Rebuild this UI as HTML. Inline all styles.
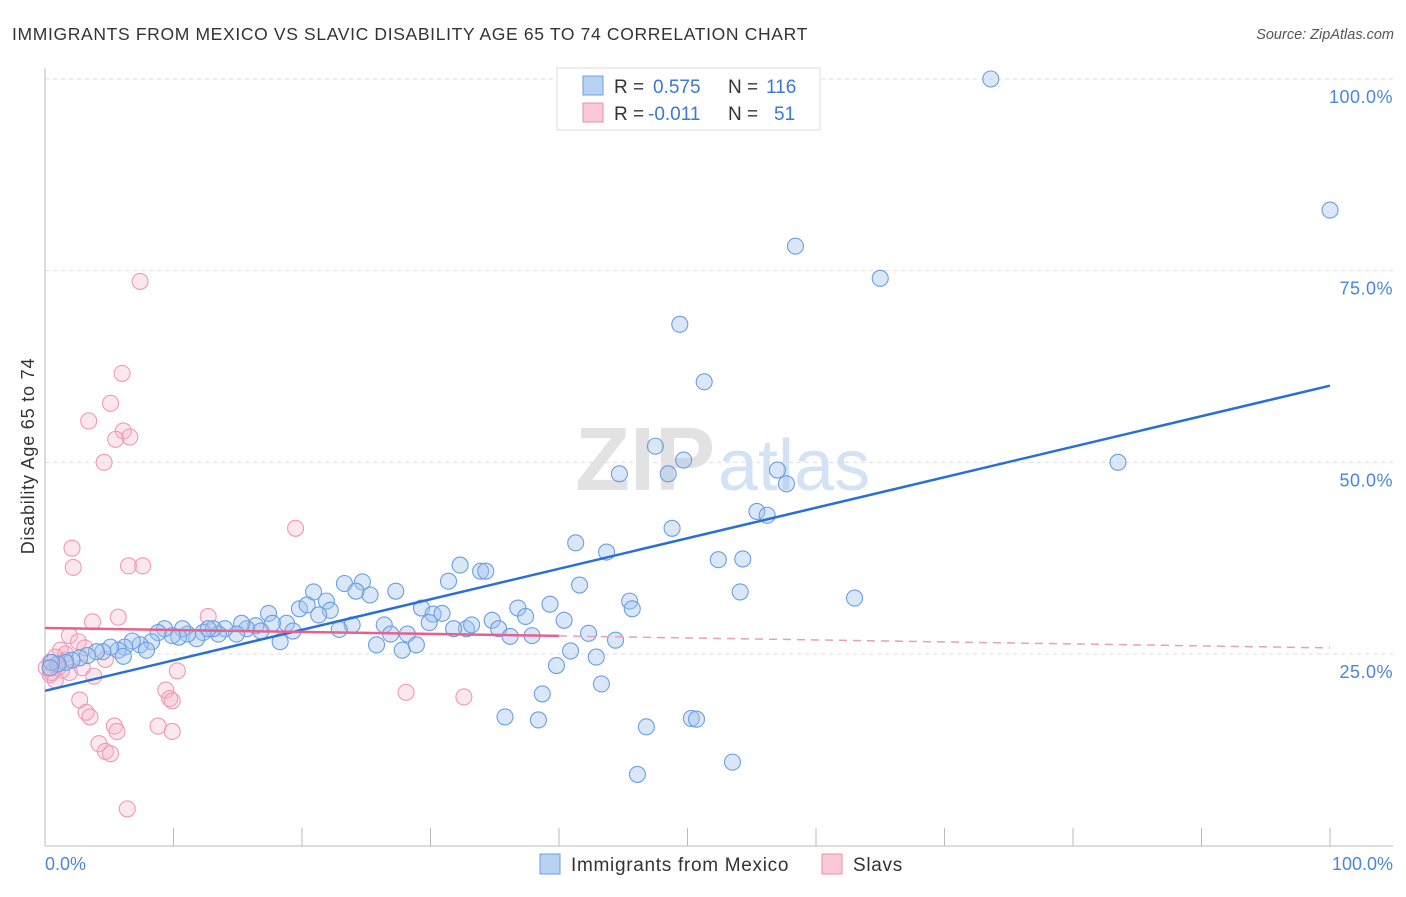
<!DOCTYPE html>
<html><head><meta charset="utf-8"><style>
body{margin:0;background:#fff;font-family:"Liberation Sans",sans-serif}
svg text{font-family:"Liberation Sans",sans-serif}
</style></head><body>
<svg width="1406" height="892">
<text x="12" y="40" font-size="17.5" fill="#333" letter-spacing="0.65">IMMIGRANTS FROM MEXICO VS SLAVIC DISABILITY AGE 65 TO 74 CORRELATION CHART</text>
<text x="1394" y="39" font-size="14.5" fill="#555" text-anchor="end" font-style="italic">Source: ZipAtlas.com</text>
<g id="grid"></g>
<text x="715" y="490" font-size="90" fill="#e2e2e2" text-anchor="end" font-family="Liberation Serif" font-weight="bold">ZIP</text>
<text x="718" y="490" font-size="72" fill="#d3e2f4">atlas</text>
<g id="pts"></g>
<g id="lines"></g>
<text transform="translate(34,456) rotate(-90)" font-size="18" letter-spacing="0.8" fill="#333" text-anchor="middle">Disability Age 65 to 74</text>
<text x="45" y="870" font-size="18" fill="#4a86d8">0.0%</text>
<text x="1393" y="870" font-size="18" fill="#4a86d8" text-anchor="end">100.0%</text>
<rect x="557" y="68" width="263" height="62" fill="#fff" stroke="#ddd"/>
<rect x="583" y="76" width="20" height="19" fill="#b8d2f4" stroke="#6a9fe0"/>
<rect x="583" y="103" width="20" height="19" fill="#fbc9d8" stroke="#ea8fab"/>
<text x="614" y="93" font-size="19" fill="#333">R = <tspan fill="#3a78d6" x="653">0.575</tspan><tspan x="728">N =</tspan><tspan fill="#3a78d6" x="766">116</tspan></text>
<text x="614" y="120" font-size="19" fill="#333">R = <tspan fill="#3a78d6" x="648">-0.011</tspan><tspan x="728">N =</tspan><tspan fill="#3a78d6" x="774">51</tspan></text>
<rect x="540" y="854" width="20" height="20" fill="#b8d2f4" stroke="#6a9fe0"/>
<text x="571" y="871" font-size="19" letter-spacing="0.7" fill="#333">Immigrants from Mexico</text>
<rect x="822" y="854" width="20" height="20" fill="#fbc9d8" stroke="#ea8fab"/>
<text x="853" y="871" font-size="19" letter-spacing="0.7" fill="#333">Slavs</text>
</svg>
<script>
const yTicks=[25,50,75,100];
const yTickLabels=["25.0%","50.0%","75.0%","100.0%"];
const xTicks=[0,10,20,30,40,50,60,70,80,90,100];
const blueX=[73.6,100,58.4,65,49.4,51.3,47.5,49.7,44.7,48.5,83.5,57,57.7,55.4,56.2,48.8,41.3,43.7,52.4,54.3,32.3,33.9,34.3,31.4,41.6,54.1,63,45.5,45.7,39.3,36.8,37.4,34.8,40.4,29.3,30.2,30.9,29.9,32.8,33.2,31.8,35.3,36.2,37.9,42.3,44.4,27.3,25.3,23.3,24.7,24.2,20.9,21.9,19.8,20.4,22.2,21.3,23.9,22.9,26.4,26.9,28.2,25.8,27.8,28.9,40.9,42.9,39.8,43.3,38.7,35.8,38.4,46.8,50.3,50.7,46.1,53.5,17.4,18.8,19.3,18.3,17.7,16.4,15.7,15.3,16.8,14.9,14,13.5,13.1,12.3,12.7,11.8,11.1,10.7,10.4,9.9,9.3,8.8,8.3,7.4,6.8,7.9,6.2,5.7,5.1,4.5,4,3.3,2.7,2.1,1.6,1,0.5,0.4,6.1];
const blueY=[100,82.9,78.2,74,68,60.5,52.1,50.3,48.5,48.5,50,49,47.2,43.6,43.1,41.4,39.5,38.3,37.3,37.4,36.6,35.8,35.8,34.5,34,33.1,32.3,31.9,30.9,31.5,31,29.9,29.4,29.4,31,30.2,30.3,29.1,28.3,28.8,28.3,28.3,27.3,27.4,27.7,26.8,33.2,32.7,34.2,34.4,33.2,33.1,31.9,30.9,31.4,30.7,30.1,28.8,28.2,28.8,27.6,27.6,26.2,25.5,26.2,25.4,24.6,23.5,21.1,19.8,16.8,16.4,15.5,16.6,16.5,9.3,10.9,30.3,29,28,26.6,29,28.7,28.3,29,28,27.6,28.3,27.6,28.3,27.8,28.3,27,27.6,28.3,27.2,27.4,28.3,27.8,26.6,26.2,26.7,25.5,25.9,25.5,25.9,25.3,25.3,24.8,24.5,24.2,23.9,23.7,23.9,23.2,24.7];
const pinkX=[7.4,6,5.1,3.4,6.1,6.6,5.5,4.6,19.5,2.1,2.2,6.5,7.6,3.7,5.7,12.7,1.9,2.6,3.1,1.2,1.6,0.8,0.4,1,0.4,0.8,1.9,2.9,3.8,4.7,10.3,9.4,9.7,9.9,28.1,32.6,2.7,3.2,3.5,8.8,9.9,5.4,5.6,4.2,4.7,5.1,6.4,1.3,0.1,0.5,1.6];
const pinkY=[73.6,61.6,57.7,55.4,54.1,53.3,53,50,41.4,38.8,36.3,36.5,36.5,29.2,29.8,29.9,27.4,26.6,25.8,25.5,25,24.6,23.9,23.2,22.3,21.6,22.6,23.2,22.1,24.3,22.8,20.3,19.2,18.9,20,19.4,19,17.4,16.8,15.6,14.9,15.6,14.9,13.3,12.3,12,4.8,22.9,23.2,22.6,24.2];
const blueTrend=[20.2,60];
const pinkTrend=[28.4,25.8];
const pinkSolidEnd=40;
const NS="http://www.w3.org/2000/svg";
const X=v=>45+v*12.85, Y=v=>845.7-v*7.667;
function mk(t,a,p){const e=document.createElementNS(NS,t);for(const k in a)e.setAttribute(k,a[k]);document.getElementById(p).appendChild(e);return e;}
yTicks.forEach((t,i)=>{
 let l=mk('line',{x1:45,x2:1393,y1:Y(t),y2:Y(t),stroke:'#ddd','stroke-dasharray':'4,4'},'grid');
 
 
 let tx=mk('text',{x:1393,y:Y(t)+24,'font-size':18,fill:'#4a86d8','text-anchor':'end','letter-spacing':0.5},'grid');
 tx.textContent=yTickLabels[i];
 
 
});
let ax=mk('line',{x1:45,x2:1393,y1:846,y2:846,stroke:'#bbb'},'grid');


let ay=mk('line',{x1:45,x2:45,y1:68,y2:846,stroke:'#bbb'},'grid');


xTicks.forEach(t=>{
 let l=mk('line',{x1:X(t),x2:X(t),y1:828,y2:846,stroke:'#bbb'},'grid');
 
 
});
pinkX.forEach((x,i)=>{
 let c=mk('circle',{cx:X(x),cy:Y(pinkY[i]),r:8,fill:'rgba(247,175,199,0.3)',stroke:'#ee9ab4','stroke-width':1.1},'pts');
 
 
});
blueX.forEach((x,i)=>{
 let c=mk('circle',{cx:X(x),cy:Y(blueY[i]),r:8,fill:'rgba(160,196,240,0.4)',stroke:'#6a9fe0','stroke-width':1.1},'pts');
 
 
});
let b=mk('line',{x1:X(0),y1:Y(blueTrend[0]),x2:X(100),y2:Y(blueTrend[1]),stroke:'#2a6fd6','stroke-width':2.5},'lines');


const pm=pinkTrend[0]+(pinkTrend[1]-pinkTrend[0])*pinkSolidEnd/100;
let p1=mk('line',{x1:X(0),y1:Y(pinkTrend[0]),x2:X(pinkSolidEnd),y2:Y(pm),stroke:'#e8608c','stroke-width':2.5},'lines');


let p2=mk('line',{x1:X(pinkSolidEnd),y1:Y(pm),x2:X(100),y2:Y(pinkTrend[1]),stroke:'#e8a0b8','stroke-width':1.5,'stroke-dasharray':'8,6'},'lines');


</script>
</body></html>
